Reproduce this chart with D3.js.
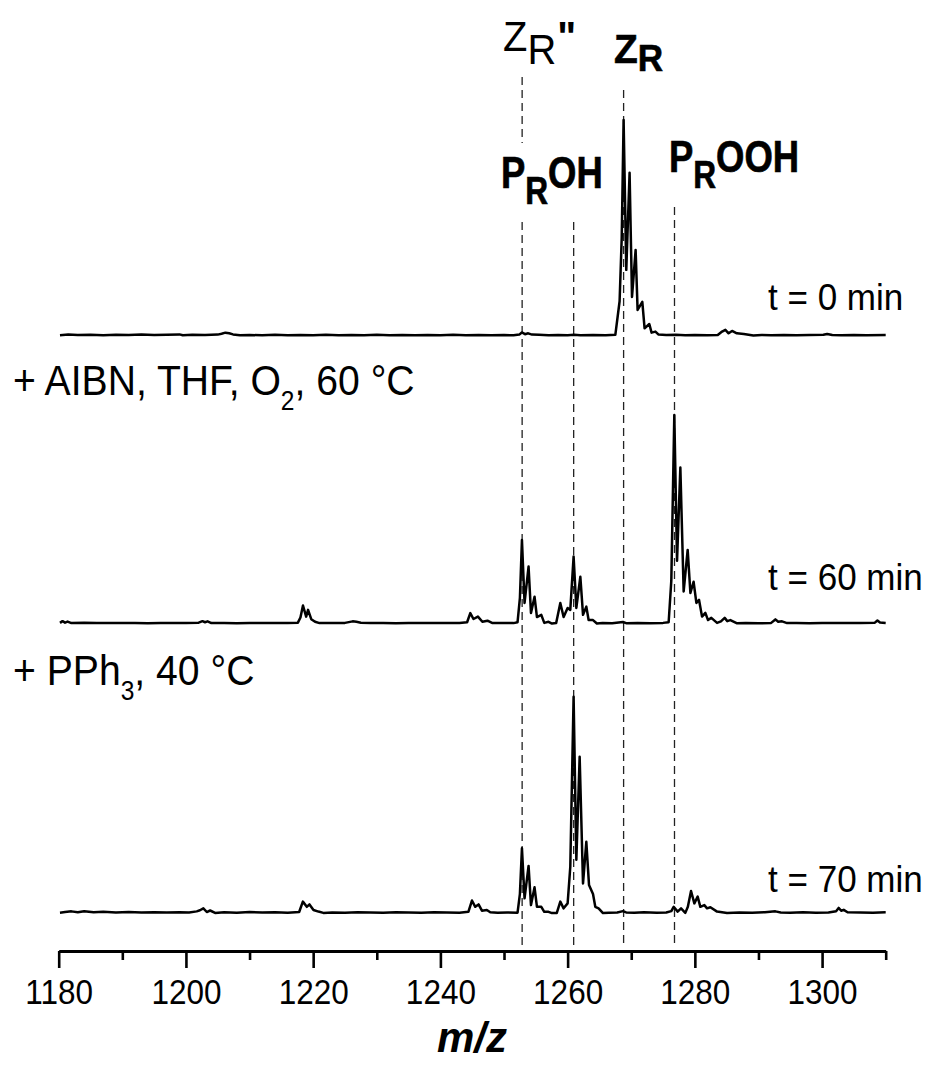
<!DOCTYPE html>
<html>
<head>
<meta charset="utf-8">
<script src="https://cdn.jsdelivr.net/npm/d3@7/dist/d3.min.js"></script>
<style>
  html, body { margin: 0; padding: 0; background: #fff; }
  svg { display: block; }
  text { font-family: "Liberation Sans", Arial, sans-serif; fill: #000; }
</style>
</head>
<body>
<svg id="chart" width="930" height="1068"></svg>
<script>
// ---------- DATA ----------
const majorTicks = [1180, 1200, 1220, 1240, 1260, 1280, 1300];
const minorTicks = [1190, 1210, 1230, 1250, 1270, 1290, 1310];
const markerMz = [1252.85, 1260.95, 1268.8, 1276.8];
const traceLabels = ["t = 0 min", "t = 60 min", "t = 70 min"];
const traceOffsets = [266.6, 133.6, 0];

// t = 0 min  [m/z, intensity]
const spectrum0 = [[1180.2,0.3],[1181.5,0.6],[1183,0.4],[1185,0.5],[1187,0.3],[1189,0.5],[1191,0.4],[1193,0.6],[1195,0.4],[1197,0.5],[1199,0.7],[1199.5,0.3],[1201,0.5],[1203,0.4],[1205,0.6],[1205.6,1.0],[1206.2,1.5],[1206.8,1.2],[1207.4,0.7],[1208.5,0.3],[1210,0.4],[1212,0.3],[1214,0.5],[1216,0.3],[1218,0.4],[1220,0.3],[1222,0.5],[1224,0.3],[1226,0.4],[1228,0.3],[1230,0.5],[1232,0.3],[1234,0.4],[1236,0.3],[1238,0.4],[1240,0.3],[1242,0.5],[1244,0.3],[1246,0.4],[1248,0.3],[1250,0.4],[1251.5,0.3],[1252.4,0.6],[1252.8,1.6],[1253.3,0.8],[1253.8,1.2],[1254.4,0.6],[1255.5,0.5],[1257,0.3],[1258.5,0.4],[1260,0.3],[1261,0.5],[1262,0.3],[1264,0.4],[1266,0.3],[1267.5,0.5],[1268.17,16],[1268.5,45],[1268.8,99.7],[1269.22,30.5],[1269.74,75.3],[1270.12,18],[1270.69,39.7],[1271.0,12],[1271.74,15.7],[1272.1,3.5],[1272.84,5.5],[1273.2,1.5],[1273.8,2.0],[1274.3,0.6],[1275.5,0.4],[1277,0.5],[1278.5,0.3],[1280,0.4],[1282,0.3],[1283.6,0.4],[1284.28,2.0],[1284.8,2.8],[1285.3,1.2],[1285.85,2.3],[1286.6,1.2],[1287.7,0.9],[1289.2,0.2],[1290.5,0.4],[1292,0.3],[1294,0.4],[1296,0.3],[1298,0.4],[1300.2,0.5],[1300.8,0.9],[1301.6,0.4],[1303,0.3],[1305,0.4],[1307,0.3],[1310,0.4]];

// t = 60 min
const spectrum60 = [[1180.2,0.5],[1180.6,1.3],[1181.0,0.6],[1181.4,1.1],[1182,0.4],[1184,0.6],[1186,0.4],[1188,0.5],[1190,0.4],[1192,0.5],[1194,0.3],[1196,0.5],[1198,0.4],[1200,0.5],[1202,0.6],[1202.6,1.3],[1203.0,0.8],[1203.4,1.2],[1204,0.4],[1206,0.5],[1208,0.3],[1210,0.5],[1212,0.4],[1214,0.5],[1216,0.4],[1217.6,0.6],[1218.0,3],[1218.4,8.5],[1218.9,3.4],[1219.2,6.5],[1219.7,2.2],[1220.3,1.0],[1221,0.4],[1223,0.4],[1225,0.5],[1226.2,1.2],[1226.8,1.0],[1227.5,0.6],[1229,0.4],[1231,0.5],[1233,0.3],[1235,0.5],[1237,0.4],[1239,0.5],[1241,0.4],[1243,0.5],[1244.2,0.8],[1244.7,5.0],[1245.2,2.3],[1245.9,3.4],[1246.6,1.0],[1247.4,1.5],[1248.2,0.4],[1250,0.5],[1251.5,0.4],[1252.13,0.8],[1252.5,12],[1252.82,38.8],[1253.23,9.7],[1253.86,26.5],[1254.24,5.1],[1254.8,12.6],[1255.18,3.2],[1255.86,4.2],[1256.33,0.5],[1257.0,1.0],[1257.54,0.2],[1258.2,0.4],[1258.85,9.7],[1259.37,3.2],[1260.0,7.4],[1260.42,6.5],[1260.94,31.1],[1261.37,7.4],[1262.0,21.8],[1262.42,4.2],[1262.94,8.0],[1263.3,1.8],[1263.99,1.8],[1264.6,0.2],[1265.5,0.4],[1267,0.3],[1268.7,0.9],[1269.3,0.3],[1271,0.4],[1273,0.3],[1275,0.5],[1275.88,0.8],[1276.3,20],[1276.77,96.5],[1277.2,29.2],[1277.72,72.2],[1278.24,15.0],[1278.87,34.2],[1279.3,14.3],[1279.8,19.5],[1280.24,9.7],[1280.66,11.1],[1281.13,3.4],[1281.65,5.1],[1282.07,1.8],[1282.59,2.8],[1283.49,0.5],[1284.1,1.2],[1284.69,2.8],[1285.1,1.3],[1285.58,1.8],[1286.64,0.3],[1288,0.5],[1290,0.3],[1292,0.5],[1292.66,2.1],[1293.1,1.0],[1293.7,1.2],[1294.5,0.4],[1296,0.5],[1298,0.3],[1300,0.5],[1302,0.4],[1304,0.5],[1306,0.4],[1308.3,0.6],[1308.7,1.6],[1309.1,0.7],[1310,0.5]];

// t = 70 min
const spectrum70 = [[1180.2,0.3],[1181,0.6],[1182,0.9],[1183,0.5],[1184,1.0],[1185.5,0.5],[1187,0.7],[1189,0.4],[1191,0.6],[1193,0.4],[1195,0.5],[1197,0.4],[1199,0.5],[1200.5,0.4],[1201.7,0.9],[1202.2,1.4],[1202.74,2.3],[1203.28,0.6],[1203.8,1.3],[1204.58,0.2],[1206,0.5],[1208,0.3],[1210,0.6],[1212,0.4],[1214,0.5],[1216,0.3],[1217.8,0.6],[1218.38,5.4],[1219.0,3.0],[1219.42,4.1],[1220.05,1.5],[1220.83,0.8],[1221.6,0.2],[1223,0.4],[1225,0.3],[1227,0.5],[1229,0.4],[1231,0.3],[1233,0.5],[1235,0.4],[1237,0.3],[1239,0.5],[1241,0.4],[1243,0.3],[1244.4,0.7],[1244.96,5.9],[1245.48,3.0],[1246.0,4.1],[1246.53,1.2],[1247.3,1.5],[1247.84,0.5],[1249,0.3],[1250.5,0.4],[1252.13,0.3],[1252.5,9],[1252.82,30.0],[1253.23,6.9],[1253.86,21.9],[1254.24,3.8],[1254.8,12.0],[1255.18,3.0],[1255.86,3.0],[1256.33,0.7],[1257.0,0.7],[1257.54,0.1],[1258.3,0.2],[1258.85,5.4],[1259.37,2.3],[1260.0,4.6],[1260.42,21.5],[1260.94,100],[1261.37,24.7],[1261.89,72.3],[1262.42,13.8],[1262.94,33.0],[1263.36,13.1],[1263.99,8.9],[1264.35,3.0],[1264.87,2.3],[1265.56,0.1],[1266.5,0.3],[1267.8,0.4],[1268.7,1.0],[1269.2,0.4],[1270.5,0.3],[1272,0.5],[1274,0.3],[1275.5,0.4],[1276.3,1.0],[1276.67,3.0],[1277.3,0.8],[1277.83,2.3],[1278.5,0.2],[1278.9,3],[1279.4,10.3],[1279.92,4.6],[1280.44,7.7],[1280.86,3.0],[1281.49,3.8],[1281.92,2.3],[1282.44,2.8],[1283.49,0.8],[1285.06,0.1],[1287,0.4],[1289,0.3],[1291,0.5],[1292.66,0.9],[1293.5,0.4],[1295,0.3],[1297,0.5],[1299,0.3],[1301,0.4],[1302.2,1.0],[1302.6,2.5],[1303.0,1.2],[1303.4,1.6],[1304,0.5],[1306,0.4],[1308,0.3],[1310,0.5]];

const spectra = [spectrum0, spectrum60, spectrum70];

// ---------- SCALES ----------
const svg = d3.select("#chart");
const x = d3.scaleLinear().domain([1180, 1310]).range([58.7, 885.7]);
const y = d3.scaleLinear().domain([-17.4, 421.7]).range([951, 0]);

// ---------- DASHED MARKER LINES ----------
const dashSegs = [
  [markerMz[0], 421.7 - 77 / 2.166, 421.7 - 143 / 2.166],
  [markerMz[0], 421.7 - 222 / 2.166, -15.5],
  [markerMz[1], 421.7 - 222 / 2.166, -15.5],
  [markerMz[2], 421.7 - 90 / 2.166, -15.5],
  [markerMz[3], 421.7 - 207 / 2.166, -15.5]
];
svg.append("g").selectAll("line").data(dashSegs).join("line")
  .attr("x1", d => x(d[0])).attr("x2", d => x(d[0]))
  .attr("y1", d => y(d[1])).attr("y2", d => y(d[2]))
  .attr("stroke", "#222").attr("stroke-width", 1.3)
  .attr("stroke-dasharray", "8,5");

// ---------- SPECTRA ----------
const line = d3.line().x(d => x(d[0])).y(d => y(d[1]));
svg.append("g").selectAll("path").data(spectra).join("path")
  .attr("d", (s, i) => line(s.map(p => [p[0], p[1] + traceOffsets[i]])))
  .attr("fill", "none").attr("stroke", "#000")
  .attr("stroke-width", 2.5).attr("stroke-linejoin", "round");

// ---------- AXIS ----------
const gAxis = svg.append("g").attr("transform", "translate(0,951)");
gAxis.call(d3.axisBottom(x).tickValues(majorTicks).tickSize(17).tickSizeOuter(0)
  .tickPadding(11).tickFormat(d3.format("d")));
const gMinor = svg.append("g").attr("transform", "translate(0,951)");
gMinor.call(d3.axisBottom(x).tickValues(minorTicks).tickSize(9).tickSizeOuter(0).tickFormat(""));
gMinor.select(".domain").remove();
[gAxis, gMinor].forEach(g => {
  g.selectAll("line").attr("stroke", "#000").attr("stroke-width", 2.6);
});
gAxis.select(".domain").attr("stroke", "#000").attr("stroke-width", 2.8);
gAxis.selectAll("text").attr("font-size", 35).attr("transform", "scale(0.9,1)")
  .attr("font-family", "'Liberation Sans', Arial, sans-serif").attr("fill", "#000");

svg.append("text").attr("x", 472).attr("y", 1052).attr("text-anchor", "middle")
  .attr("font-size", 42).attr("font-weight", "bold").attr("font-style", "italic").text("m/z");

// ---------- TRACE LABELS ----------
const labelBase = [310, 590, 892];
svg.append("g").selectAll("text").data(traceLabels).join("text")
  .attr("transform", (d, i) => `translate(768,${labelBase[i]}) scale(0.96,1)`)
  .attr("font-size", 36.5).text(d => d);

// ---------- CONDITION LABELS ----------
function cond(tx, ty, parts) {
  const t = svg.append("text").attr("transform", `translate(${tx},${ty}) scale(0.91,1)`).attr("font-size", 43);
  parts.forEach(p => {
    const s = t.append("tspan").text(p.t);
    if (p.sub) s.attr("font-size", 27).attr("dy", 15);
    if (p.back) s.attr("dy", -15);
  });
}
cond(13, 395, [{t: "+ AIBN, THF, O"}, {t: "2", sub: true}, {t: ", 60 °C", back: true}]);
cond(13, 685, [{t: "+ PPh"}, {t: "3", sub: true}, {t: ", 40 °C", back: true}]);

// ---------- PEAK LABELS ----------
// Z_R''
(function () {
  const t = svg.append("text").attr("transform", "translate(503,51) scale(0.95,1)").attr("font-size", 42);
  t.append("tspan").text("Z");
  t.append("tspan").attr("dy", 13).text("R");
  t.append("tspan").attr("dy", -13).attr("dx", 1).attr("font-weight", "bold").text("\"");
})();
// Z_R bold
(function () {
  const t = svg.append("text").attr("transform", "translate(614,63) scale(0.95,1)")
    .attr("font-size", 41).attr("font-weight", "bold")
    .attr("stroke", "#000").attr("stroke-width", 0.6);
  t.append("tspan").text("Z");
  t.append("tspan").attr("dy", 8).attr("font-size", 37).text("R");
})();
function prLabel(tx, ty, rest) {
  const t = svg.append("text").attr("transform", `translate(${tx},${ty}) scale(0.81,1)`)
    .attr("font-size", 45).attr("font-weight", "bold")
    .attr("stroke", "#000").attr("stroke-width", 0.7);
  t.append("tspan").text("P");
  t.append("tspan").attr("dy", 16).attr("font-size", 39).text("R");
  t.append("tspan").attr("dy", -16).text(rest);
}
prLabel(501, 188, "OH");
prLabel(669, 172, "OOH");
</script>
</body>
</html>
